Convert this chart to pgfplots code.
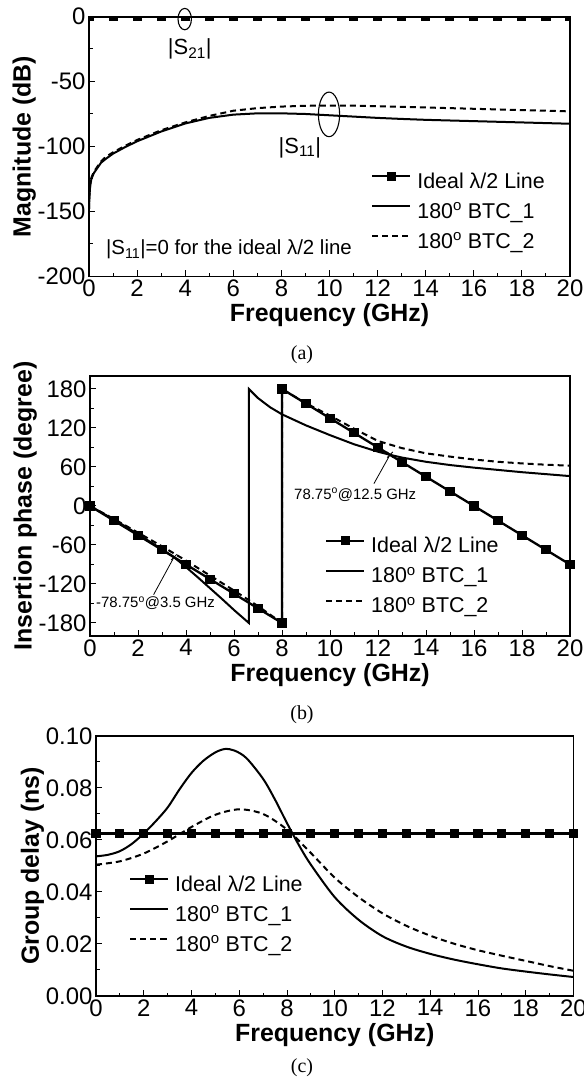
\documentclass[border=0pt]{standalone}
\usepackage{fontspec}
\setmainfont{Liberation Sans}
\newfontfamily\timesfont{Liberation Serif}
\usepackage{pgfplots}
\pgfplotsset{compat=1.18}

\pgfplotsset{
  myaxis/.style={
    scale only axis,
    xmin=0, xmax=20,
    xtick={0,2,...,20}, minor x tick num=1,
    tick align=inside,
    tick pos=left,
    major tick length=6bp, minor tick length=3.5bp,
    every tick/.style={black, line width=1bp},
    axis line style={line width=1.4bp},
    tick label style={font=\fontsize{24}{24}\selectfont},
    label style={font=\bfseries\fontsize{25}{25}\selectfont},
    ylabel shift=-5bp,
    /pgf/number format/assume math mode=true,
    xlabel={Frequency (GHz)},
    legend cell align=left,
    legend style={draw=none, fill=none, inner sep=0pt, row sep=10bp,
      font=\fontsize{21.5}{21.5}\selectfont,
      nodes={inner sep=0pt, text height=15bp, text depth=5bp},
      /tikz/every odd column/.append style={column sep=6bp}},
    legend image code/.code={\draw[mark repeat=2,mark phase=2,#1] plot coordinates {(0bp,7bp) (19bp,7bp) (38bp,7bp)};},
  },
  ideal/.style={black, line width=2.3bp, mark=square*, mark size=3.4bp, mark options={solid}},
  btcone/.style={black, line width=2bp, no markers},
  btctwo/.style={black, line width=2bp, no markers, dash pattern=on 6bp off 4bp},
}

\begin{document}
\begin{tikzpicture}
\useasboundingbox (0,0) rectangle (584bp,1081bp);

% ---------------- (a) ----------------
\begin{axis}[myaxis, at={(89bp,804.5bp)}, anchor=south west,
  width=481bp, height=260bp,
  ymin=-200, ymax=0, ytick={-200,-150,-100,-50,0}, minor y tick num=1,
  ylabel={Magnitude (dB)},
  clip mode=individual, clip marker paths=true,
  legend style={at={(rel axis cs:0.586,0.40)}, anchor=north west}]
\addplot[ideal] coordinates {(0,0) (1,0) (2,0) (3,0) (4,0) (5,0) (6,0) (7,0) (8,0) (9,0) (10,0) (11,0) (12,0) (13,0) (14,0) (15,0) (16,0) (17,0) (18,0) (19,0) (20,0)};
\addlegendentry{Ideal λ/2 Line}
\addplot[btcone] coordinates {(0,-148) (0.02,-138) (0.05,-130) (0.1,-125) (0.2,-120.5) (0.5,-112.5) (0.7,-109.5) (1,-105.5) (1.5,-100.5) (2,-96) (3,-88.5) (4,-82.3) (5,-78) (6,-75.5) (7,-74.5) (8,-74.5) (9,-75) (10,-76) (11,-77) (12,-78) (13,-78.8) (14,-79.5) (15,-80) (16,-80.5) (17,-81) (18,-81.5) (19,-82) (20,-82.5)};
\addlegendentry{180\textsuperscript{o} BTC\_1}
\addplot[btctwo] coordinates {(0,-148) (0.02,-137) (0.05,-129) (0.1,-124) (0.2,-119.5) (0.5,-111.5) (0.7,-108) (1,-104.5) (1.5,-99.5) (2,-95) (3,-87.5) (4,-81.5) (5,-76.5) (6,-72.5) (7,-70.5) (8,-69.3) (9,-68.7) (10,-68.5) (11,-68.6) (12,-69) (13,-69.5) (14,-70) (15,-70.5) (16,-71) (17,-71.5) (18,-72) (19,-72.5) (20,-73)};
\addlegendentry{180\textsuperscript{o} BTC\_2}
\addplot[btcone, forget plot] coordinates {(0,-0.05) (20,-0.05)};
\addplot[btctwo, forget plot] coordinates {(0,-0.05) (20,-0.05)};
\draw[line width=1.1bp] (axis cs:3.98,-2) ellipse [x radius=6.7bp, y radius=10.7bp];
\draw[line width=1.1bp] (axis cs:9.98,-75.3) ellipse [x radius=10.6bp, y radius=22.3bp];
\node[font=\fontsize{22}{22}\selectfont] at (axis cs:4.19,-25) {|S\textsubscript{21}|};
\node[font=\fontsize{22}{22}\selectfont] at (axis cs:8.77,-101) {|S\textsubscript{11}|};
\node[font=\fontsize{20.5}{20.5}\selectfont] at (axis cs:5.82,-179.4) {|S\textsubscript{11}|=0 for the ideal λ/2 line};
\end{axis}
\node[font=\timesfont\fontsize{20}{20}\selectfont] at (302bp,726bp) {(a)};

% ---------------- (b) ----------------
\begin{axis}[myaxis, at={(90bp,445bp)}, anchor=south west,
  width=480bp, height=260bp,
  ymin=-200, ymax=200, ytick={-180,-120,-60,0,60,120,180}, minor y tick num=1,
  ylabel={Insertion phase (degree)},
  legend style={at={(rel axis cs:0.489,0.38)}, anchor=north west}]
\addplot[ideal] coordinates {(0,0) (1,-22.5) (2,-45) (3,-67.5) (4,-90) (5,-112.5) (6,-135) (7,-157.5) (8,-180) (8,180) (9,157.5) (10,135) (11,112.5) (12,90) (13,67.5) (14,45) (15,22.5) (16,0) (17,-22.5) (18,-45) (19,-67.5) (20,-90)};
\addlegendentry{Ideal λ/2 Line}
\addplot[btcone] coordinates {(0,0) (0.5,-10.5) (1,-21) (1.5,-32) (2,-43.5) (2.5,-55) (3,-66.5) (3.5,-78.75) (4,-94) (4.5,-110) (5,-126.5) (5.5,-143) (6,-160) (6.62,-180) (6.62,180) (7,166) (7.5,152) (8,141) (9,124) (10,109) (11,95) (12,83.5) (12.5,78.75) (13,74.5) (14,68) (15,63) (16,59) (17,55.5) (18,52) (19,49) (20,46)};
\addlegendentry{180\textsuperscript{o} BTC\_1}
\addplot[btctwo] coordinates {(0,0) (1,-20) (2,-41) (3,-62) (3.5,-73) (4,-84) (5,-107) (6,-130) (7,-154) (7.5,-167) (8,-180) (8,180) (9,158) (10,139) (11,119) (12,100) (13,89) (14,81) (15,76) (16,71.5) (17,68) (18,65.5) (19,63.5) (20,62)};
\addlegendentry{180\textsuperscript{o} BTC\_2}
\addplot[only marks, mark=x, mark size=4bp, black, line width=0.8bp, forget plot] coordinates {(3.5,-78.75) (12.5,78.75)};
\draw[line width=0.8bp] (axis cs:12.5,78.75) -- (axis cs:11.83,34.4);
\draw[line width=0.8bp] (axis cs:3.5,-78.75) -- (axis cs:2.65,-136.4);
\node[font=\fontsize{15}{15}\selectfont] at (axis cs:11.05,17.4) {78.75\textsuperscript{o}@12.5 GHz};
\node[font=\fontsize{15}{15}\selectfont] at (axis cs:2.73,-149) {-78.75\textsuperscript{o}@3.5 GHz};
\end{axis}
\node[font=\timesfont\fontsize{20}{20}\selectfont] at (302bp,366bp) {(b)};

% ---------------- (c) ----------------
\begin{axis}[myaxis, at={(96bp,85bp)}, anchor=south west,
  width=477.5bp, height=260bp,
  ymin=0, ymax=0.1, ytick={0,0.02,0.04,0.06,0.08,0.10}, minor y tick num=1,
  scaled y ticks=false,
  yticklabel style={/pgf/number format/.cd, fixed, fixed zerofill, precision=2},
  ylabel={Group delay (ns)},
  legend style={at={(rel axis cs:0.0685,0.4635)}, anchor=north west}]
\addplot[ideal] coordinates {(0,0.0625) (1,0.0625) (2,0.0625) (3,0.0625) (4,0.0625) (5,0.0625) (6,0.0625) (7,0.0625) (8,0.0625) (9,0.0625) (10,0.0625) (11,0.0625) (12,0.0625) (13,0.0625) (14,0.0625) (15,0.0625) (16,0.0625) (17,0.0625) (18,0.0625) (19,0.0625) (20,0.0625)};
\addlegendentry{Ideal λ/2 Line}
\addplot[btcone, smooth] coordinates {(0,0.0537) (0.5,0.0543) (1,0.0557) (1.5,0.0585) (2,0.0625) (2.5,0.0672) (3,0.0725) (3.5,0.0795) (4,0.0858) (4.5,0.0905) (5,0.0937) (5.4,0.0950) (5.8,0.0944) (6.3,0.0915) (7,0.0835) (7.5,0.0755) (8,0.0665) (8.5,0.0580) (9,0.0505) (10,0.0380) (11,0.0293) (12,0.0230) (13,0.0190) (14,0.0162) (15,0.0140) (16,0.0122) (17,0.0106) (18,0.0094) (19,0.0083) (20,0.0073)};
\addlegendentry{180\textsuperscript{o} BTC\_1}
\addplot[btctwo, smooth] coordinates {(0,0.0505) (1,0.0518) (2,0.0548) (3,0.0595) (4,0.0650) (5,0.0697) (6,0.0718) (7,0.0700) (8,0.0640) (9,0.0550) (10,0.0455) (11,0.0380) (12,0.0318) (13,0.0270) (14,0.0232) (15,0.0201) (16,0.0176) (17,0.0155) (18,0.0135) (19,0.0115) (20,0.0097)};
\addlegendentry{180\textsuperscript{o} BTC\_2}
\end{axis}
\node[font=\timesfont\fontsize{20}{20}\selectfont] at (302bp,13bp) {(c)};
\end{tikzpicture}
\end{document}
